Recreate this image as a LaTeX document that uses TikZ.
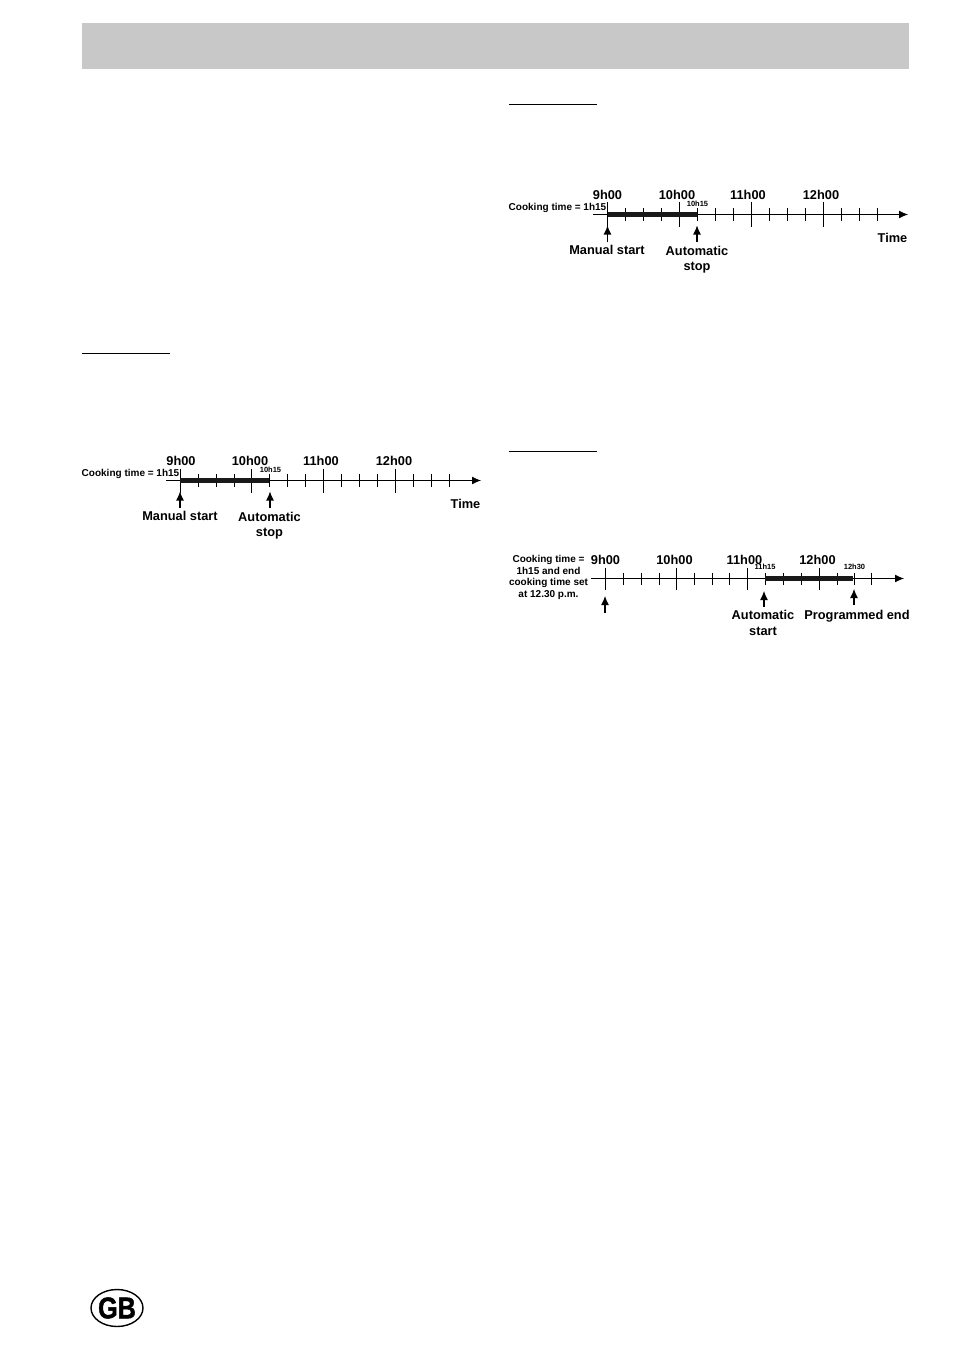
\documentclass[tikz,border=0pt]{standalone}
\usepackage{fontspec}
\setmainfont{Liberation Sans}
\usetikzlibrary{arrows.meta, positioning, shapes.geometric}
\definecolor{HeaderGray}{RGB}{200,200,200}
\newfontfamily\badgefont[FakeBold=1.6]{Liberation Sans Bold}
\tikzset{
    hourlabel/.style={font=\fontsize{12.8}{12.8}\selectfont\bfseries, inner sep=0pt},
    notelabel/.style={font=\fontsize{12.8}{15.5}\selectfont\bfseries, inner sep=0pt, align=center},
    timelabel/.style={font=\fontsize{10}{11.7}\selectfont\bfseries, inner sep=0pt, align=center},
    smalllabel/.style={font=\fontsize{7.5}{8}\selectfont\bfseries, inner sep=0pt},
    axisline/.style={-{Latex[length=9pt,width=8pt]}, line width=1pt},
    pointer/.style={-{Latex[length=9pt,width=8pt]}, line width=1.1pt},
    bigtick/.style={line width=1pt},
    minortick/.style={line width=0.9pt},
    cookbar/.style={line width=5pt, draw=black!90},
    rulehead/.style={line width=0.9pt}
}
\begin{document}
\begin{tikzpicture}[x=1pt, y=-1pt, >=Latex]
    \useasboundingbox (0,0) rectangle (954,1351);
    % Header band
    \fill[HeaderGray] (82,23) rectangle (909,69);
    % Section rules
    \coordinate (ruleAa) at (82,353);  \coordinate (ruleAb) at (170,353);
    \coordinate (ruleBa) at (509,104); \coordinate (ruleBb) at (597,104);
    \coordinate (ruleCa) at (509,451); \coordinate (ruleCb) at (597,451);
    \draw[rulehead] (ruleAa) -- (ruleAb);
    \draw[rulehead] (ruleBa) -- (ruleBb);
    \draw[rulehead] (ruleCa) -- (ruleCb);

    % Timeline left
    \begin{scope}[shift={(0,480.5)}]
        \coordinate (axAa) at (166,0); \coordinate (axAb) at (481,0);
        \coordinate (barAa) at (180,0); \coordinate (barAb) at (269,0);
        \foreach \x in {198,216,234,269,287,305,341,359,377,413,431,449} {\draw[minortick] (\x,-6.5) -- (\x,6.5);}
        \foreach \x in {180,251.5,323.5,395.5} {\draw[bigtick] (\x,-12) -- (\x,12);}
        \draw[axisline] (axAa) -- (axAb);
        \draw[cookbar] (barAa) -- (barAb);
        \node[hourlabel] (nineA) at (181,-19.5) {9h00};
        \node[hourlabel] (tenA) at (250,-19.5) {10h00};
        \node[hourlabel] (elevenA) at (321,-19.5) {11h00};
        \node[hourlabel] (twelveA) at (394,-19.5) {12h00};
        \node[smalllabel] (stopA) at (270.5,-10.5) {10h15};
        \node[timelabel] (cookA) at (130.5,-6.5) {Cooking time = 1h15};
        \node[notelabel, anchor=north] (manualA) at (180,30.5) {Manual start};
        \node[notelabel, anchor=north] (autoA) at (269.5,31.5) {Automatic\\stop};
        \node[notelabel] (timeA) at (465.5,23.5) {Time};
        \coordinate (tipAa) at (180,11); \coordinate (tipAb) at (270,11);
        \draw[pointer] (manualA.north) ++(0,-3) -- (tipAa);
        \draw[pointer] (autoA.north) ++(0.5,-4) -- (tipAb);
    \end{scope}

    % Timeline upper right
    \begin{scope}[shift={(0,214.5)}]
        \coordinate (axBa) at (593,0); \coordinate (axBb) at (908,0);
        \coordinate (barBa) at (607.5,0); \coordinate (barBb) at (697,0);
        \foreach \x in {625.5,643.5,661.5,697,715,733,769,787,805,841,859,877} {\draw[minortick] (\x,-6.5) -- (\x,6.5);}
        \foreach \x in {607.5,679.5,751.5,823.5} {\draw[bigtick] (\x,-12) -- (\x,12);}
        \draw[axisline] (axBa) -- (axBb);
        \draw[cookbar] (barBa) -- (barBb);
        \node[hourlabel] (nineB) at (607.5,-19.5) {9h00};
        \node[hourlabel] (tenB) at (677,-19.5) {10h00};
        \node[hourlabel] (elevenB) at (748,-19.5) {11h00};
        \node[hourlabel] (twelveB) at (821,-19.5) {12h00};
        \node[smalllabel] (stopB) at (697.5,-10.5) {10h15};
        \node[timelabel] (cookB) at (557.5,-6.5) {Cooking time = 1h15};
        \node[notelabel, anchor=north] (manualB) at (607,30.5) {Manual start};
        \node[notelabel, anchor=north] (autoB) at (697,31.5) {Automatic\\stop};
        \node[notelabel] (timeB) at (892.5,23.5) {Time};
        \coordinate (tipBa) at (607.5,11); \coordinate (tipBb) at (697,11);
        \draw[pointer] (manualB.north) ++(0.5,-3) -- (tipBa);
        \draw[pointer] (autoB.north) ++(0,-4) -- (tipBb);
    \end{scope}

    % Timeline lower right
    \begin{scope}[shift={(0,578.5)}]
        \coordinate (axCa) at (591,0); \coordinate (axCb) at (904,0);
        \coordinate (barCa) at (765,0); \coordinate (barCb) at (853,0);
        \foreach \x in {623.5,641.5,659.5,694.5,712.5,729.5,765,783.5,801.5,837,854,871.5} {\draw[minortick] (\x,-6) -- (\x,6);}
        \foreach \x in {605.5,676.5,747.5,819.5} {\draw[bigtick] (\x,-11) -- (\x,11);}
        \draw[axisline] (axCa) -- (axCb);
        \draw[cookbar] (barCa) -- (barCb);
        \node[hourlabel] (nineC) at (605.5,-19) {9h00};
        \node[hourlabel] (tenC) at (674.5,-19) {10h00};
        \node[hourlabel] (elevenC) at (744.5,-19) {11h00};
        \node[hourlabel] (twelveC) at (817.5,-19) {12h00};
        \node[smalllabel] (startC) at (765,-11.5) {11h15};
        \node[smalllabel] (endC) at (854.5,-11.5) {12h30};
        \node[timelabel] (cookC) at (548.5,-1) {Cooking time =\\1h15 and end\\cooking time set\\at 12.30 p.m.};
        \node[notelabel, anchor=north] (autoC) at (763,32) {Automatic\\start};
        \node[notelabel, anchor=north] (progC) at (857,32) {Programmed end};
        \coordinate (tailCa) at (605,34.5);
        \coordinate (tipCa) at (605,17.5); \coordinate (tipCb) at (764,12.5); \coordinate (tipCc) at (854,10.5);
        \draw[pointer] (tailCa) -- (tipCa);
        \draw[pointer] (autoC.north) ++(1,-4) -- (tipCb);
        \draw[pointer] (progC.north) ++(-3,-6) -- (tipCc);
    \end{scope}

    % Country badge
    \node[draw, line width=1.4pt, ellipse, minimum width=52pt, minimum height=37pt, inner sep=0pt] (badge) at (117,1308) {};
    \node[font=\fontsize{30}{30}\badgefont, inner sep=0pt, xscale=0.84, transform shape] (badgetext) at (badge.center) {GB};
\end{tikzpicture}
\end{document}
